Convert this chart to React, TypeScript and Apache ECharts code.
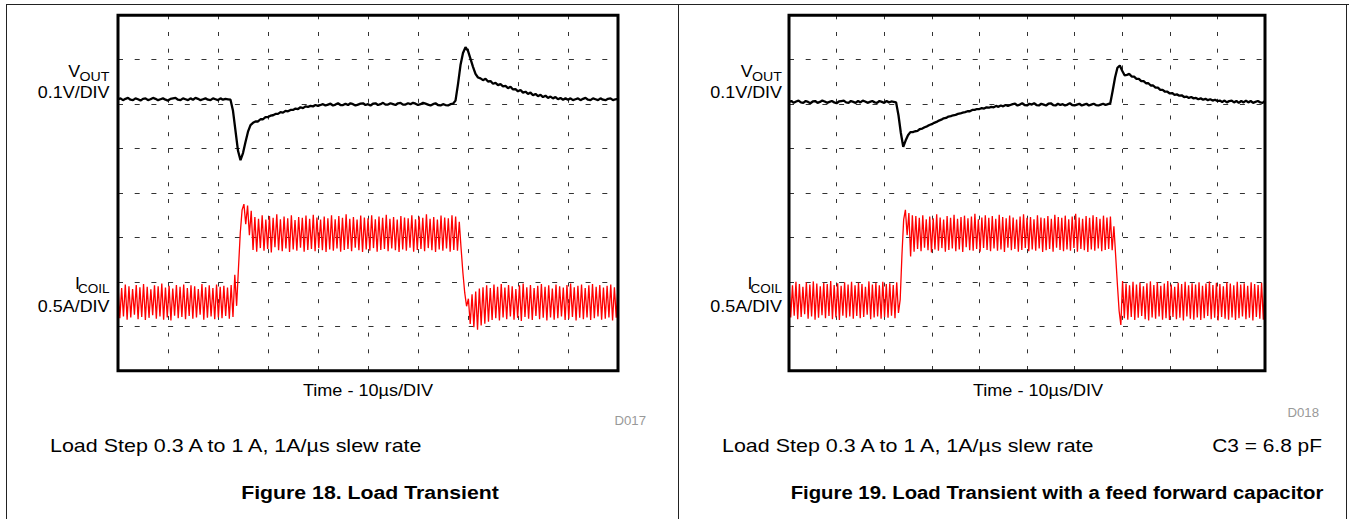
import React, { useEffect, useRef } from "react";
import * as echarts from "echarts";

// ---- axes (oscilloscope divisions) ----
const TIME_MAX = 100; // µs, 10 µs/DIV
const TIME_DIV = 10;
const Y_DIVS = 8;
const VOUT_DT = 0.5; // µs between VOUT samples
const COIL_DT = 0.365; // µs between ICOIL samples

// ---- Figure 18: VOUT (divisions) ----
const VOUT_18 = [
  6.11, 6.13, 6.09, 6.12, 6.14, 6.1, 6.09, 6.13, 6.11, 6.08,
  6.12, 6.13, 6.09, 6.11, 6.14, 6.12, 6.09, 6.11, 6.13, 6.1,
  6.08, 6.12, 6.13, 6.14, 6.1, 6.09, 6.13, 6.11, 6.09, 6.13,
  6.1, 6.14, 6.12, 6.09, 6.11, 6.13, 6.1, 6.09, 6.13, 6.11,
  6.09, 6.13, 6.1, 6.12, 6.11, 6.1,
  5.85, 5.4, 4.95, 4.74, 4.9, 5.15, 5.38, 5.53, 5.58, 5.61,
  5.61, 5.66, 5.66, 5.71, 5.71, 5.74, 5.75, 5.78, 5.78, 5.82,
  5.81, 5.85, 5.84, 5.87, 5.87, 5.9, 5.89, 5.93, 5.91, 5.95,
  5.94, 5.96, 5.95, 5.98, 5.96,
  5.98, 6.0, 5.97, 5.99, 6.01, 5.97, 5.99, 6.02, 5.98, 5.98,
  6.01, 5.98, 6.02, 6.0, 5.97, 5.99, 6.01, 6.02, 5.98, 6.0,
  5.97, 6.01, 6.02, 5.98, 6.0, 6.03, 5.99, 5.99, 6.02, 6.0,
  5.98, 6.02, 6.03, 5.99, 5.99, 6.02, 6.0, 6.03, 6.01, 5.98,
  6.0, 6.03, 6.01, 5.99, 5.97, 6.0, 6.02, 5.98, 5.97, 6.0,
  5.98, 5.97, 6.0, 6.01,
  6.08, 6.45, 6.88, 7.15, 7.28, 7.2, 7.02, 6.84, 6.68, 6.6,
  6.58, 6.54, 6.57, 6.51, 6.52, 6.46, 6.48, 6.43, 6.45, 6.4,
  6.41, 6.36, 6.39, 6.33, 6.34, 6.29, 6.32, 6.26, 6.28, 6.23,
  6.26, 6.2, 6.23, 6.18, 6.21, 6.16, 6.19, 6.14, 6.17, 6.13,
  6.16, 6.11, 6.14, 6.1, 6.13, 6.1,
  6.13, 6.09, 6.11, 6.13, 6.09, 6.12, 6.14, 6.1, 6.09, 6.13,
  6.11, 6.09, 6.13, 6.1, 6.09, 6.12, 6.13, 6.09, 6.11, 6.12,
];

// ---- Figure 18: ICOIL (divisions), ripple peaks / troughs ----
const COIL_18_LOW_A = [
  1.92, 1.18, 1.86, 1.22, 1.94, 1.15, 1.9, 1.2, 1.84, 1.26,
  1.93, 1.16, 1.88, 1.21, 1.95, 1.14, 1.89, 1.19, 1.83, 1.25,
  1.92, 1.17, 1.9, 1.22, 1.96, 1.15, 1.87, 1.2, 1.91, 1.13,
  1.85, 1.24, 1.93, 1.18, 1.89, 1.21, 1.94, 1.16, 1.86, 1.23,
  1.92, 1.17, 1.9, 1.2, 1.84, 1.26, 1.95, 1.15, 1.88, 1.19,
  1.92, 1.22, 1.86, 1.16, 1.94, 1.2, 1.89, 1.18, 1.91, 1.23,
  1.87, 1.17, 1.93, 1.21,
];
const COIL_18_RISE = [2.16, 1.46, 2.3, 3.1, 3.62, 3.75, 3.3, 3.72, 3.05, 3.6];
const COIL_18_HIGH = [
  2.72, 3.46, 2.68, 3.42, 2.76, 3.5, 2.7, 3.4, 2.74, 3.48,
  2.66, 3.44, 2.78, 3.52, 2.71, 3.41, 2.69, 3.47, 2.75, 3.43,
  2.67, 3.5, 2.73, 3.39, 2.7, 3.46, 2.77, 3.44, 2.68, 3.49,
  2.72, 3.42, 2.74, 3.51, 2.69, 3.45, 2.76, 3.4, 2.71, 3.47,
  2.67, 3.43, 2.73, 3.5, 2.7, 3.41, 2.75, 3.48, 2.68, 3.44,
  2.72, 3.52, 2.74, 3.42, 2.69, 3.46, 2.77, 3.4, 2.71, 3.49,
  2.67, 3.45, 2.73, 3.43, 2.7, 3.5, 2.76, 3.41, 2.68, 3.47,
  2.72, 3.44, 2.74, 3.51, 2.69, 3.42, 2.75, 3.46, 2.71, 3.4,
  2.67, 3.48, 2.73, 3.45, 2.7, 3.43, 2.77, 3.5, 2.68, 3.41,
  2.72, 3.47, 2.74, 3.44, 2.69, 3.52, 2.76, 3.42, 2.71, 3.46,
  2.67, 3.4, 2.73, 3.49, 2.7, 3.45, 2.75, 3.43, 2.68, 3.5,
  2.72, 3.47, 2.7,
];
const COIL_18_FALL = [3.35, 2.75, 2.2, 1.75, 1.45, 1.62, 1.05, 1.72, 0.98, 1.78, 0.92, 1.85];
const COIL_18_LOW_B = [
  1.02, 1.88, 1.06, 1.92, 1.1, 1.86, 1.14, 1.94, 1.18, 1.89,
  1.13, 1.95, 1.2, 1.87, 1.16, 1.93, 1.22, 1.9, 1.15, 1.84,
  1.19, 1.92, 1.12, 1.96, 1.21, 1.88, 1.17, 1.93, 1.14, 1.86,
  1.23, 1.91, 1.16, 1.95, 1.19, 1.89, 1.13, 1.92, 1.2, 1.85,
  1.15, 1.94, 1.18, 1.9, 1.22, 1.87, 1.14, 1.93, 1.17, 1.96,
  1.21, 1.88, 1.13, 1.91, 1.19, 1.94, 1.16, 1.86, 1.2, 1.92,
  1.14, 1.95, 1.18, 1.89, 1.22, 1.93, 1.15, 1.87, 1.17, 1.91,
  1.2, 1.94, 1.13, 1.88, 1.19, 1.92,
];

// ---- Figure 19: VOUT (divisions) ----
const VOUT_19 = [
  6.05, 6.07, 6.03, 6.06, 6.08, 6.04, 6.03, 6.07, 6.05, 6.02,
  6.06, 6.07, 6.03, 6.05, 6.08, 6.06, 6.03, 6.05, 6.07, 6.04,
  6.02, 6.06, 6.07, 6.08, 6.04, 6.03, 6.07, 6.05, 6.03, 6.07,
  6.04, 6.08, 6.06, 6.03, 6.05, 6.07, 6.04, 6.03, 6.07, 6.05,
  6.03, 6.07, 6.04, 6.06, 6.05, 6.04,
  5.75, 5.35, 5.04, 5.18, 5.3, 5.37, 5.37, 5.39, 5.4, 5.44,
  5.45, 5.48, 5.5, 5.53, 5.55, 5.58, 5.6, 5.63, 5.65, 5.68,
  5.69, 5.72, 5.73, 5.75, 5.76, 5.78, 5.79, 5.81, 5.82, 5.84,
  5.84, 5.87, 5.87, 5.89, 5.89, 5.91, 5.9, 5.93, 5.92, 5.94,
  5.93, 5.96, 5.94, 5.97, 5.95, 5.98, 5.96,
  5.98, 6.0, 6.01, 5.97, 5.99, 6.02, 5.98, 5.97, 6.01, 5.99,
  6.02, 5.98, 5.97, 6.01, 5.99, 5.97, 6.01, 6.02, 5.98, 5.97,
  6.01, 5.98, 6.0, 5.97, 5.99, 6.02, 5.98, 5.97, 5.99, 6.01,
  5.97, 5.99, 6.01, 5.97, 5.99, 6.01, 5.98, 5.97, 5.99, 6.01,
  5.98, 6.0,
  6.02, 6.3, 6.6, 6.82, 6.87, 6.75, 6.65, 6.66, 6.68, 6.62,
  6.62, 6.57, 6.57, 6.52, 6.52, 6.47, 6.47, 6.42, 6.42, 6.37,
  6.37, 6.32, 6.32, 6.28, 6.28, 6.24, 6.25, 6.21, 6.22, 6.19,
  6.2, 6.16, 6.17, 6.14, 6.16, 6.13, 6.14, 6.11, 6.13, 6.1,
  6.12, 6.09, 6.11, 6.08, 6.1, 6.07,
  6.08, 6.05, 6.08, 6.04, 6.07, 6.08, 6.04, 6.07, 6.03, 6.07,
  6.04, 6.08, 6.04, 6.07, 6.03, 6.05, 6.07, 6.04, 6.03, 6.07,
];

// ---- Figure 19: ICOIL (divisions) ----
const COIL_19_LOW_A = [
  1.98, 1.2, 1.92, 1.24, 2.0, 1.16, 1.95, 1.21, 1.89, 1.27,
  1.99, 1.17, 1.94, 1.22, 2.01, 1.15, 1.96, 1.19, 1.9, 1.25,
  1.98, 1.18, 1.95, 1.23, 2.02, 1.16, 1.93, 1.2, 1.97, 1.14,
  1.91, 1.24, 1.99, 1.19, 1.94, 1.22, 2.0, 1.17, 1.92, 1.23,
  1.98, 1.18, 1.95, 1.21, 1.89, 1.26, 2.01, 1.16, 1.94, 1.2,
  1.98, 1.22, 1.92, 1.17, 2.0, 1.21, 1.95, 1.19, 1.97, 1.24,
  1.93, 1.18, 1.99, 1.3,
];
const COIL_19_RISE = [1.6, 2.6, 3.4, 3.62, 3.05, 3.55, 2.57, 3.5, 2.68, 3.48];
const COIL_19_HIGH = [
  2.74, 3.44, 2.69, 3.5, 2.77, 3.41, 2.71, 3.47, 2.66, 3.43,
  2.73, 3.52, 2.7, 3.45, 2.76, 3.4, 2.68, 3.48, 2.72, 3.44,
  2.75, 3.51, 2.69, 3.42, 2.73, 3.46, 2.67, 3.49, 2.78, 3.43,
  2.71, 3.47, 2.7, 3.53, 2.74, 3.41, 2.68, 3.45, 2.76, 3.5,
  2.72, 3.44, 2.69, 3.48, 2.75, 3.42, 2.7, 3.51, 2.73, 3.46,
  2.67, 3.43, 2.77, 3.49, 2.71, 3.45, 2.74, 3.4, 2.68, 3.47,
  2.72, 3.52, 2.76, 3.44, 2.69, 3.46, 2.73, 3.41, 2.7, 3.5,
  2.75, 3.45, 2.67, 3.43, 2.71, 3.48, 2.74, 3.42, 2.68, 3.51,
  2.77, 3.46, 2.72, 3.44, 2.69, 3.49, 2.73, 3.41, 2.7, 3.47,
  2.76, 3.53, 2.68, 3.45, 2.74, 3.42, 2.71, 3.48, 2.67, 3.44,
  2.73, 3.5, 2.7, 3.46, 2.75, 3.42, 2.69, 3.49, 2.72, 3.45,
  2.74, 3.47, 2.71,
];
const COIL_19_FALL = [3.25, 2.6, 1.95, 1.35, 1.03, 2.02];
const COIL_19_LOW_B = [
  1.18, 1.96, 1.15, 1.92, 1.21, 2.0, 1.14, 1.94, 1.19, 1.98,
  1.23, 1.9, 1.16, 1.97, 1.13, 2.01, 1.2, 1.93, 1.17, 1.99,
  1.22, 1.91, 1.15, 1.96, 1.18, 2.02, 1.14, 1.94, 1.21, 1.89,
  1.16, 1.98, 1.19, 1.95, 1.13, 2.0, 1.22, 1.92, 1.17, 1.97,
  1.15, 1.94, 1.2, 1.99, 1.14, 1.91, 1.18, 1.96, 1.23, 2.01,
  1.16, 1.93, 1.19, 1.98, 1.13, 1.95, 1.21, 1.9, 1.17, 1.99,
  1.15, 1.96, 1.2, 1.92, 1.14, 2.0, 1.18, 1.94, 1.22, 1.97,
  1.16, 1.91, 1.19, 1.99, 1.13, 1.95, 1.21, 1.93, 1.17, 1.98,
  1.15, 1.96,
];

// ---- texts ----
const TIME_LABEL = "Time - 10µs/DIV";
const VOUT_SCALE = "0.1V/DIV";
const COIL_SCALE = "0.5A/DIV";
const CONDITION = "Load Step 0.3 A to 1 A, 1A/µs slew rate";
const CAPTION_18 = "Figure 18. Load Transient";
const CAPTION_19 = "Figure 19. Load Transient with a feed forward capacitor";
const CODE_18 = "D017";
const CODE_19 = "D018";
const C3_NOTE = "C3 = 6.8 pF";

const FONT = '"Liberation Sans", Arial, Helvetica, sans-serif';

const toPairs = (vals: number[], dt: number) => vals.map((v, i) => [i * dt, v]);

function txt(
  text: string,
  x: number,
  y: number,
  size: number,
  align: string,
  extra: any = {}
) {
  return {
    type: "text",
    x,
    y,
    scaleX: extra.scaleX ?? 1.1,
    silent: true,
    z: 100,
    style: {
      text,
      fontSize: size,
      fontFamily: FONT,
      fontWeight: extra.bold ? "bold" : "normal",
      fill: extra.color ?? "#000",
      align,
      verticalAlign: "middle",
      textAlign: align,
      textVerticalAlign: "middle",
    },
  };
}

function vline(x: number, y1: number, y2: number) {
  return {
    type: "line",
    silent: true,
    shape: { x1: x, y1, x2: x, y2 },
    style: { stroke: "#222", lineWidth: 1 },
  };
}

function sideLabels(right: number) {
  return [
    txt("V", right - 41.2, 71.6, 17, "left", { scaleX: 1.05 }),
    txt("OUT", right, 76.3, 13.5, "right", { scaleX: 1.05 }),
    txt(VOUT_SCALE, right, 93, 16, "right", { scaleX: 1.12 }),
    txt("I", right - 34.5, 283.4, 17, "left", { scaleX: 1.05 }),
    txt("COIL", right, 288.4, 13.5, "right", { scaleX: 1.0 }),
    txt(COIL_SCALE, right, 306.6, 16, "right", { scaleX: 1.12 }),
  ];
}

export default function App() {
  const ref = useRef<HTMLDivElement>(null);

  useEffect(() => {
    if (!ref.current) return;
    const chart = echarts.init(ref.current, undefined, { renderer: "svg" });

    const coil18 = [
      ...COIL_18_LOW_A,
      ...COIL_18_RISE,
      ...COIL_18_HIGH,
      ...COIL_18_FALL,
      ...COIL_18_LOW_B,
    ];
    const coil19 = [
      ...COIL_19_LOW_A,
      ...COIL_19_RISE,
      ...COIL_19_HIGH,
      ...COIL_19_FALL,
      ...COIL_19_LOW_B,
    ];

    const grids = [
      { left: 118, top: 15.3, width: 500, height: 355.4 },
      { left: 789, top: 15.3, width: 476, height: 355.4 },
    ].map((g) => ({
      ...g,
      show: true,
      borderColor: "#000",
      borderWidth: 3,
      backgroundColor: "transparent",
      z: 3,
    }));

    const xAxes = [0, 1].map((gi) => ({
      type: "value",
      gridIndex: gi,
      min: 0,
      max: TIME_MAX,
      interval: TIME_DIV,
      axisLine: { show: false },
      axisTick: { show: false },
      axisLabel: { show: false },
      splitLine: {
        show: true,
        lineStyle: { color: "#333", width: 1, type: [4, 12.7] },
      },
    }));
    const yAxes = [0, 1].map((gi) => ({
      type: "value",
      gridIndex: gi,
      min: 0,
      max: Y_DIVS,
      interval: 1,
      axisLine: { show: false },
      axisTick: { show: false },
      axisLabel: { show: false },
      splitLine: {
        show: true,
        lineStyle: { color: "#333", width: 1, type: [5, 11.7] },
      },
    }));

    const lineSeries = (data: number[][], gi: number, color: string, w: number) => ({
      type: "line",
      xAxisIndex: gi,
      yAxisIndex: gi,
      data,
      showSymbol: false,
      symbol: "none",
      clip: true,
      lineStyle: { color, width: w },
      z: 2,
    });

    chart.setOption({
      animation: false,
      backgroundColor: "#fff",
      grid: grids,
      xAxis: xAxes,
      yAxis: yAxes,
      series: [
        lineSeries(toPairs(VOUT_18, VOUT_DT), 0, "#000", 2.3),
        lineSeries(toPairs(coil18, COIL_DT), 0, "#ff0000", 1.3),
        lineSeries(toPairs(VOUT_19, VOUT_DT), 1, "#000", 2.3),
        lineSeries(toPairs(coil19, COIL_DT), 1, "#ff0000", 1.3),
      ],
      graphic: [
        {
          type: "line",
          silent: true,
          shape: { x1: 6, y1: 4.5, x2: 1349, y2: 4.5 },
          style: { stroke: "#222", lineWidth: 1 },
        },
        vline(6.5, 4, 519),
        vline(678.5, 4, 519),
        vline(1346.5, 4, 519),
        ...sideLabels(109.5),
        ...sideLabels(782),
        txt(TIME_LABEL, 368, 391, 16, "center", { scaleX: 1.13 }),
        txt(CODE_18, 646, 421, 12, "right", { color: "#999", scaleX: 1.1 }),
        txt(CONDITION, 50, 445, 19, "left", { scaleX: 1.13 }),
        txt(CAPTION_18, 370, 492, 19, "center", { bold: true, scaleX: 1.12 }),
        txt(TIME_LABEL, 1038, 391, 16, "center", { scaleX: 1.13 }),
        txt(CODE_19, 1319, 413, 12, "right", { color: "#999", scaleX: 1.1 }),
        txt(CONDITION, 722, 445, 19, "left", { scaleX: 1.13 }),
        txt(C3_NOTE, 1322, 445, 19, "right", { scaleX: 1.1 }),
        txt(CAPTION_19, 1057, 492, 19, "center", { bold: true, scaleX: 1.07 }),
      ],
    });

    return () => chart.dispose();
  }, []);

  return (
    <div
      ref={ref}
      style={{ position: "fixed", left: 0, top: 0, width: 1349, height: 519, background: "#fff" }}
    />
  );
}
